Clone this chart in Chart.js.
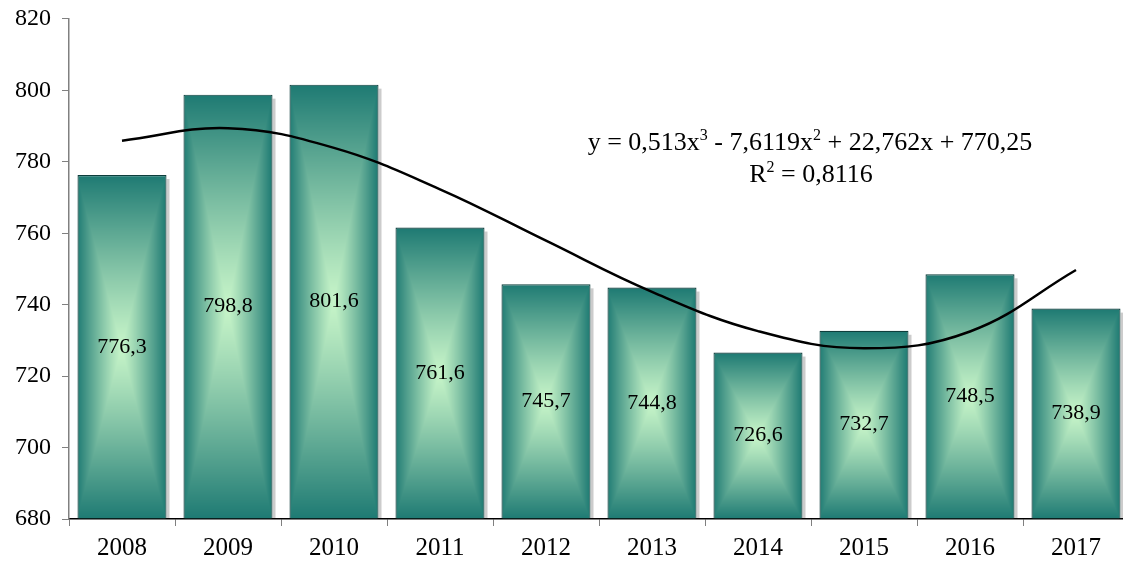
<!DOCTYPE html>
<html>
<head>
<meta charset="utf-8">
<script src="https://cdn.jsdelivr.net/npm/chart.js@4.4.1/dist/chart.umd.min.js"></script>
<style>
  html, body { margin: 0; padding: 0; background: #fff; overflow: hidden; }
  #wrap { width: 1123px; height: 563px; overflow: hidden; }
</style>
</head>
<body>
<div id="wrap"><canvas id="chart" width="1129" height="563"></canvas></div>
<script>
// ── Data ─────────────────────────────────────────────────
const years      = ['2008', '2009', '2010', '2011', '2012', '2013', '2014', '2015', '2016', '2017'];
const values     = [776.3, 798.8, 801.6, 761.6, 745.7, 744.8, 726.6, 732.7, 748.5, 738.9];
// polynomial trend line, read at each year
const trendVals  = [785.9, 789.4, 783.9, 772.3, 757.9, 743.6, 732.6, 727.8, 732.5, 749.7];
const yTicks     = [680, 700, 720, 740, 760, 780, 800, 820];
// equation text: [text, isSuperscript]
const equation   = [['y = 0,513x', 0], ['3', 1], [' - 7,6119x', 0], ['2', 1], [' + 22,762x + 770,25', 0]];
const rSquared   = [['R', 0], ['2', 1], [' = 0,8116', 0]];

// ── Style ────────────────────────────────────────────────
const FONT      = '"Liberation Serif", "Times New Roman", serif';
const EDGE      = [30, 122, 115];
const CENTER    = [198, 244, 200];
const BAR_PCT   = 0.84;
const AXIS_GREY = '#808080';

// "from center" rectangular gradient, as a pattern pinned to the bar
function centerFill(ctx, x, y, w, h) {
  w = Math.max(1, Math.round(w));
  h = Math.max(1, Math.round(h));
  const off = document.createElement('canvas');
  off.width = w; off.height = h;
  const octx = off.getContext('2d');
  const img = octx.createImageData(w, h);
  for (let py = 0; py < h; py++) {
    const v = Math.abs((py + 0.5 - h / 2) / (h / 2));
    for (let px = 0; px < w; px++) {
      const u = Math.abs((px + 0.5 - w / 2) / (w / 2));
      const t = Math.pow(Math.max(u, v), 1.15);
      const k = (py * w + px) * 4;
      img.data[k]     = CENTER[0] + (EDGE[0] - CENTER[0]) * t;
      img.data[k + 1] = CENTER[1] + (EDGE[1] - CENTER[1]) * t;
      img.data[k + 2] = CENTER[2] + (EDGE[2] - CENTER[2]) * t;
      img.data[k + 3] = 255;
    }
  }
  octx.putImageData(img, 0, 0);
  const pat = ctx.createPattern(off, 'no-repeat');
  pat.setTransform(new DOMMatrix([1, 0, 0, 1, Math.round(x), Math.round(y)]));
  return pat;
}

function barFill(c) {
  const chart = c.chart;
  const xs = chart.scales.x, ys = chart.scales.y;
  if (c.type !== 'data' || !xs || !ys || !xs.width) return 'rgb(' + EDGE.join(',') + ')';
  const cx  = xs.getPixelForValue(c.dataIndex);
  const w   = xs.width / years.length * BAR_PCT;
  const top = ys.getPixelForValue(c.raw);
  const bot = ys.getPixelForValue(ys.min);
  return centerFill(chart.ctx, cx - w / 2, top, w, bot - top);
}

// text with superscripts, centred on cx
function richText(ctx, parts, cx, cy, size) {
  const main = size + 'px ' + FONT;
  const sup  = Math.round(size * 0.62) + 'px ' + FONT;
  let total = 0;
  parts.forEach(([s, up]) => { ctx.font = up ? sup : main; total += ctx.measureText(s).width; });
  let x = cx - total / 2;
  ctx.textAlign = 'left';
  ctx.textBaseline = 'alphabetic';
  const base = cy + size * 0.33;
  parts.forEach(([s, up]) => {
    ctx.font = up ? sup : main;
    ctx.fillText(s, x, up ? base - size * 0.38 : base);
    x += ctx.measureText(s).width;
  });
}

// ── Plugins ──────────────────────────────────────────────
const barShadow = {
  id: 'barShadow',
  beforeDatasetsDraw(chart) {
    const meta = chart.getDatasetMeta(0);
    const ctx = chart.ctx;
    ctx.save();
    ctx.fillStyle = 'rgba(0,0,0,0.2)';
    meta.data.forEach(el => {
      ctx.fillRect(el.x + el.width / 2, el.y + 4, 3, el.base - el.y - 4);
    });
    ctx.restore();
  }
};

const valueLabels = {
  id: 'valueLabels',
  afterDatasetsDraw(chart) {
    const meta = chart.getDatasetMeta(0);
    const ctx = chart.ctx;
    ctx.save();
    ctx.font = '22px ' + FONT;
    ctx.fillStyle = '#000';
    ctx.textAlign = 'center';
    ctx.textBaseline = 'middle';
    meta.data.forEach((el, i) => {
      ctx.fillText(values[i].toFixed(1).replace('.', ','), el.x, (el.y + el.base) / 2);
    });
    ctx.restore();
  }
};

const trendText = {
  id: 'trendText',
  afterDraw(chart) {
    const ctx = chart.ctx;
    ctx.save();
    ctx.fillStyle = '#000';
    richText(ctx, equation, 810, 141, 26);
    richText(ctx, rSquared, 811, 173, 26);
    ctx.restore();
  }
};

// ── Chart ────────────────────────────────────────────────
new Chart(document.getElementById('chart').getContext('2d'), {
  data: {
    labels: years,
    datasets: [
      {
        type: 'bar', data: values, order: 2,
        backgroundColor: barFill,
        borderColor: '#0e3e3c', borderWidth: 1.2,
        categoryPercentage: 1, barPercentage: BAR_PCT,
        base: 680,
      },
      {
        type: 'line', data: trendVals, order: 1,
        borderColor: '#000', borderWidth: 2.5,
        pointRadius: 0, tension: 0.4, fill: false,
      },
    ]
  },
  options: {
    responsive: false, animation: false,
    layout: { padding: { left: 4, right: 0, top: 4, bottom: -7 } },
    plugins: { legend: { display: false }, tooltip: { enabled: false } },
    scales: {
      x: {
        offset: true,
        grid: { offset: true, drawOnChartArea: false, drawTicks: true, tickLength: 7, color: AXIS_GREY },
        border: { color: '#000', width: 1.5 },
        ticks: { color: '#000', font: { family: FONT, size: 25, lineHeight: 1 }, padding: 9.5, maxRotation: 0 },
      },
      y: {
        min: yTicks[0], max: yTicks[yTicks.length - 1],
        afterBuildTicks: (s) => { s.ticks = yTicks.map(v => ({ value: v })); },
        grid: { drawOnChartArea: false, drawTicks: true, tickLength: 7, color: AXIS_GREY },
        border: { color: AXIS_GREY, width: 1.5 },
        ticks: { color: '#000', font: { family: FONT, size: 24, lineHeight: 0.66 }, padding: 11 },
      },
    }
  },
  plugins: [barShadow, valueLabels, trendText]
});
</script>
</body>
</html>
